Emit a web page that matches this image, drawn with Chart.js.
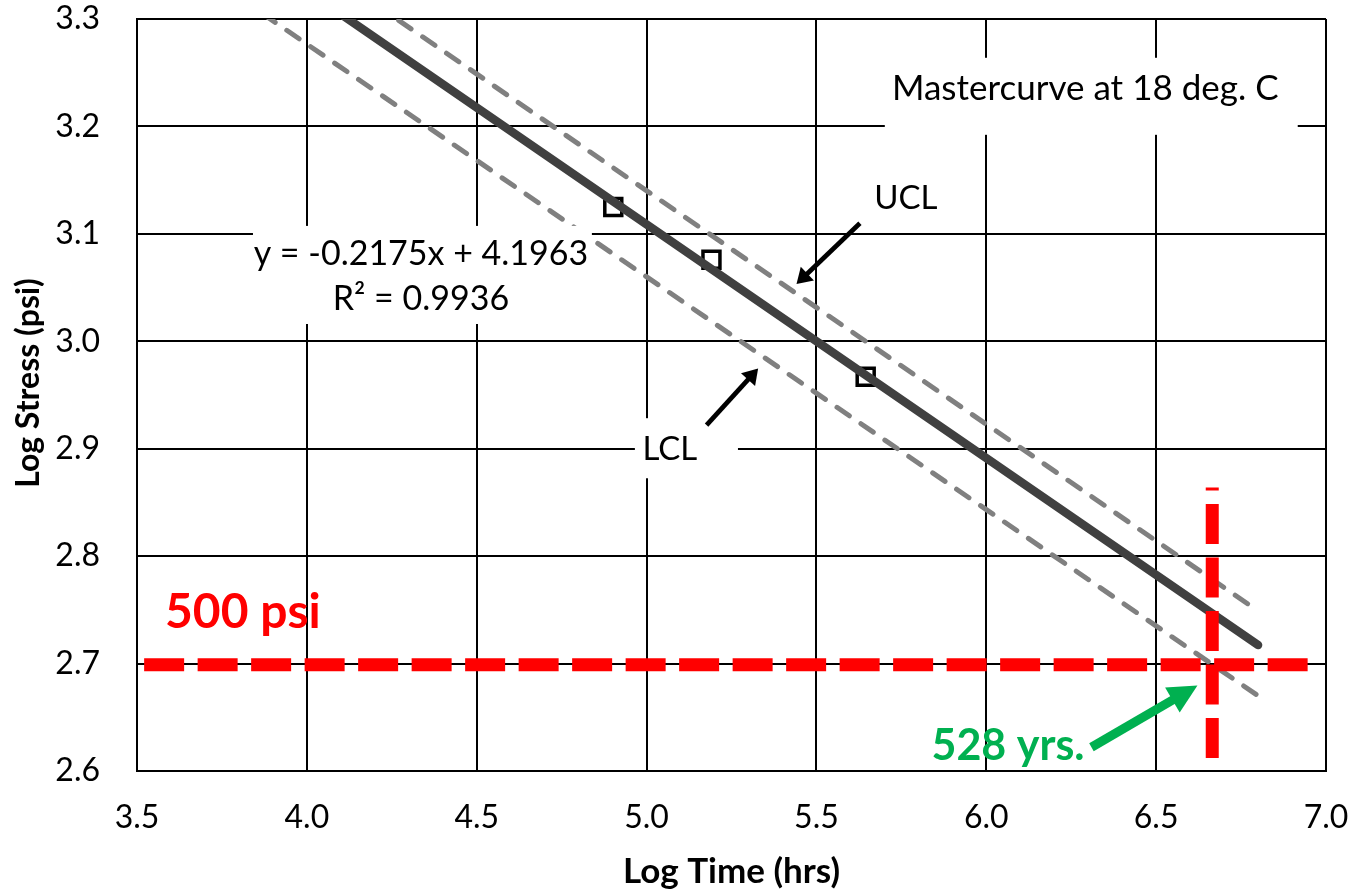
<!DOCTYPE html>
<html>
<head>
<meta charset="utf-8">
<script src="https://cdn.jsdelivr.net/npm/chart.js@4.4.1/dist/chart.umd.min.js"></script>
<style>
  html, body { margin: 0; padding: 0; background: #ffffff; }
  #wrap { width: 1355px; height: 889px; position: relative; }
</style>
</head>
<body>
<div id="wrap"><canvas id="c" width="1355" height="889"></canvas></div>
<script>
// Tick values on both axes
const xTickValues = [3.5, 4.0, 4.5, 5.0, 5.5, 6.0, 6.5, 7.0];
const yTickValues = [2.6, 2.7, 2.8, 2.9, 3.0, 3.1, 3.2, 3.3];

// Measured rupture points (log time, log stress)
const testLogTime   = [4.902, 5.191, 5.645];
const testLogStress = [3.125, 3.076, 2.967];

// Regression line
const fitSlope = -0.2175;
const fitIntercept = 4.1963;
const fitRSquared = 0.9936;
const fitLogTime = [4.0, 6.8];

// Confidence limits
const uclLogTime   = [4.2, 6.8];
const uclLogStress = [3.314, 2.749];
const lclLogTime   = [3.8, 6.8];
const lclLogStress = [3.320, 2.670];

// Design stress and predicted lifetime
const designStressPsi = 500;
const lifetimeYears = 528;
const hoursPerYear = 8760;
const designLineLogTime = [3.521, 6.961];
const lifetimeLineLogStress = [2.612, 2.864];

const designLogStress = Math.log10(designStressPsi);
const lifetimeLogTime = Math.log10(lifetimeYears * hoursPerYear);
const fitLogStress = fitLogTime.map(t => fitSlope * t + fitIntercept);

const FONT = 'Lato, "Open Sans", sans-serif';

const toPts = (xs, ys) => xs.map((x, i) => ({ x: x, y: ys[i] }));

// Annotation layer: label boxes, callouts, arrows and axis titles
const annotationPlugin = {
  id: 'callouts',
  afterDatasetsDraw(chart) {
    const ctx = chart.ctx;
    const area = chart.chartArea;
    const xs = chart.scales.x, ys = chart.scales.y;
    const px = v => xs.getPixelForValue(v);
    const py = v => ys.getPixelForValue(v);

    const box = (x0, y0, x1, y1) => {
      ctx.fillStyle = '#ffffff';
      ctx.fillRect(px(x0), py(y0), px(x1) - px(x0), py(y1) - py(y0));
    };
    const text = (str, x, y, font, color, align) => {
      ctx.font = font;
      ctx.fillStyle = color;
      ctx.textAlign = align;
      ctx.textBaseline = 'alphabetic';
      ctx.fillText(str, px(x), py(y));
    };
    const arrow = (x0, y0, x1, y1, color, shaft, headLen, headW) => {
      const ax = px(x0), ay = py(y0), bx = px(x1), by = py(y1);
      const ang = Math.atan2(by - ay, bx - ax);
      const cx = bx - Math.cos(ang) * headLen, cy = by - Math.sin(ang) * headLen;
      ctx.save();
      ctx.strokeStyle = color;
      ctx.fillStyle = color;
      ctx.lineWidth = shaft;
      ctx.lineCap = 'butt';
      ctx.beginPath();
      ctx.moveTo(ax, ay);
      ctx.lineTo(cx + Math.cos(ang) * 2, cy + Math.sin(ang) * 2);
      ctx.stroke();
      ctx.beginPath();
      ctx.moveTo(bx, by);
      ctx.lineTo(cx + Math.sin(ang) * headW / 2, cy - Math.cos(ang) * headW / 2);
      ctx.lineTo(cx - Math.sin(ang) * headW / 2, cy + Math.cos(ang) * headW / 2);
      ctx.closePath();
      ctx.fill();
      ctx.restore();
    };

    ctx.save();
    // Title box
    box(5.7013, 3.2639, 6.9168, 3.1922);
    text('Mastercurve at 18 deg. C', 6.2914, 3.2248, '35px ' + FONT, '#000000', 'center');

    // Regression equation box
    box(3.8414, 3.1074, 4.839, 3.0161);
    text('y = ' + fitSlope.toFixed(4) + 'x + ' + fitIntercept.toFixed(4), 4.3358, 3.0710, '34px ' + FONT, '#000000', 'center');
    text('R\u00B2 = ' + fitRSquared.toFixed(4), 4.3358, 3.0290, '34px ' + FONT, '#000000', 'center');

    // Confidence limit labels
    text('UCL', 5.7631, 3.1232, '33px ' + FONT, '#000000', 'center');
    box(4.9656, 2.9284, 5.2690, 2.8725);
    text('LCL', 5.0686, 2.8893, '33px ' + FONT, '#000000', 'center');
    arrow(5.628, 3.1099, 5.4414, 3.0533, '#000000', 4.7, 15, 19);
    arrow(5.1766, 2.9219, 5.3284, 2.9747, '#000000', 4.7, 15, 19);

    // Design stress and lifetime callouts
    text(designStressPsi + ' psi', 3.5824, 2.7327, 'bold 48px ' + FONT, '#ff0000', 'left');
    text(lifetimeYears + ' yrs.', 5.8387, 2.6106, 'bold 43px ' + FONT, '#00b050', 'left');
    arrow(6.3096, 2.6221, 6.6216, 2.6796, '#00b050', 9, 29, 29);

    // Axis titles
    ctx.font = 'bold 35px ' + FONT;
    ctx.fillStyle = '#000000';
    ctx.textAlign = 'center';
    ctx.textBaseline = 'alphabetic';
    ctx.fillText('Log Time (hrs)', (area.left + area.right) / 2, area.bottom + 112);

    ctx.save();
    ctx.translate(29, (area.top + area.bottom) / 2 - 12);
    ctx.rotate(-Math.PI / 2);
    ctx.font = 'bold 32px ' + FONT;
    ctx.textBaseline = 'middle';
    ctx.fillText('Log Stress (psi)', 0, 0);
    ctx.restore();
    ctx.restore();
  }
};

new Chart(document.getElementById('c'), {
  type: 'scatter',
  data: {
    datasets: [
      {
        label: 'Design stress',
        data: toPts(designLineLogTime, [designLogStress, designLogStress]),
        showLine: true,
        borderColor: '#ff0000',
        borderWidth: 13,
        borderDash: [40, 13.5],
        borderCapStyle: 'butt',
        pointRadius: 0
      },
      {
        label: 'Lifetime',
        data: toPts([lifetimeLogTime, lifetimeLogTime], lifetimeLineLogStress),
        showLine: true,
        borderColor: '#ff0000',
        borderWidth: 13,
        borderDash: [40, 13.5],
        borderCapStyle: 'butt',
        pointRadius: 0
      },
      {
        label: 'Fit',
        data: toPts(fitLogTime, fitLogStress),
        showLine: true,
        borderColor: '#404040',
        borderWidth: 8.5,
        borderCapStyle: 'round',
        pointRadius: 0
      },
      {
        label: 'Data',
        data: toPts(testLogTime, testLogStress),
        showLine: false,
        pointStyle: 'rect',
        pointRadius: 12,
        pointBorderWidth: 3.5,
        pointBorderColor: '#000000',
        pointBackgroundColor: '#ffffff'
      },
      {
        label: 'UCL',
        data: toPts(uclLogTime, uclLogStress),
        showLine: true,
        borderColor: '#808080',
        borderWidth: 5,
        borderDash: [15, 14],
        borderCapStyle: 'round',
        pointRadius: 0
      },
      {
        label: 'LCL',
        data: toPts(lclLogTime, lclLogStress),
        showLine: true,
        borderColor: '#808080',
        borderWidth: 5,
        borderDash: [15, 14],
        borderCapStyle: 'round',
        pointRadius: 0
      }
    ]
  },
  options: {
    responsive: false,
    animation: false,
    events: [],
    layout: { autoPadding: false, padding: { left: 0, right: 29, top: 19, bottom: 0 } },
    plugins: {
      legend: { display: false },
      tooltip: { enabled: false }
    },
    scales: {
      x: {
        type: 'linear',
        min: 3.5,
        max: 7.0,
        afterBuildTicks: s => { s.ticks = xTickValues.map(v => ({ value: v })); },
        afterFit: s => { s.height = 118; s.paddingLeft = 0; s.paddingRight = 0; },
        ticks: {
          callback: v => Number(v).toFixed(1),
          font: { family: FONT, size: 32 },
          color: '#000000',
          padding: 27,
          maxRotation: 0
        },
        grid: { color: '#000000', lineWidth: 2, drawTicks: false },
        border: { color: '#000000', width: 2 }
      },
      y: {
        type: 'linear',
        min: 2.6,
        max: 3.3,
        afterBuildTicks: s => { s.ticks = yTickValues.map(v => ({ value: v })); },
        afterFit: s => { s.width = 137; s.paddingTop = 0; s.paddingBottom = 0; },
        ticks: {
          callback: v => Number(v).toFixed(1),
          font: { family: FONT, size: 32 },
          color: '#000000',
          padding: 37
        },
        grid: { color: '#000000', lineWidth: 2, drawTicks: false },
        border: { color: '#000000', width: 2 }
      }
    }
  },
  plugins: [annotationPlugin]
});
</script>
</body>
</html>
